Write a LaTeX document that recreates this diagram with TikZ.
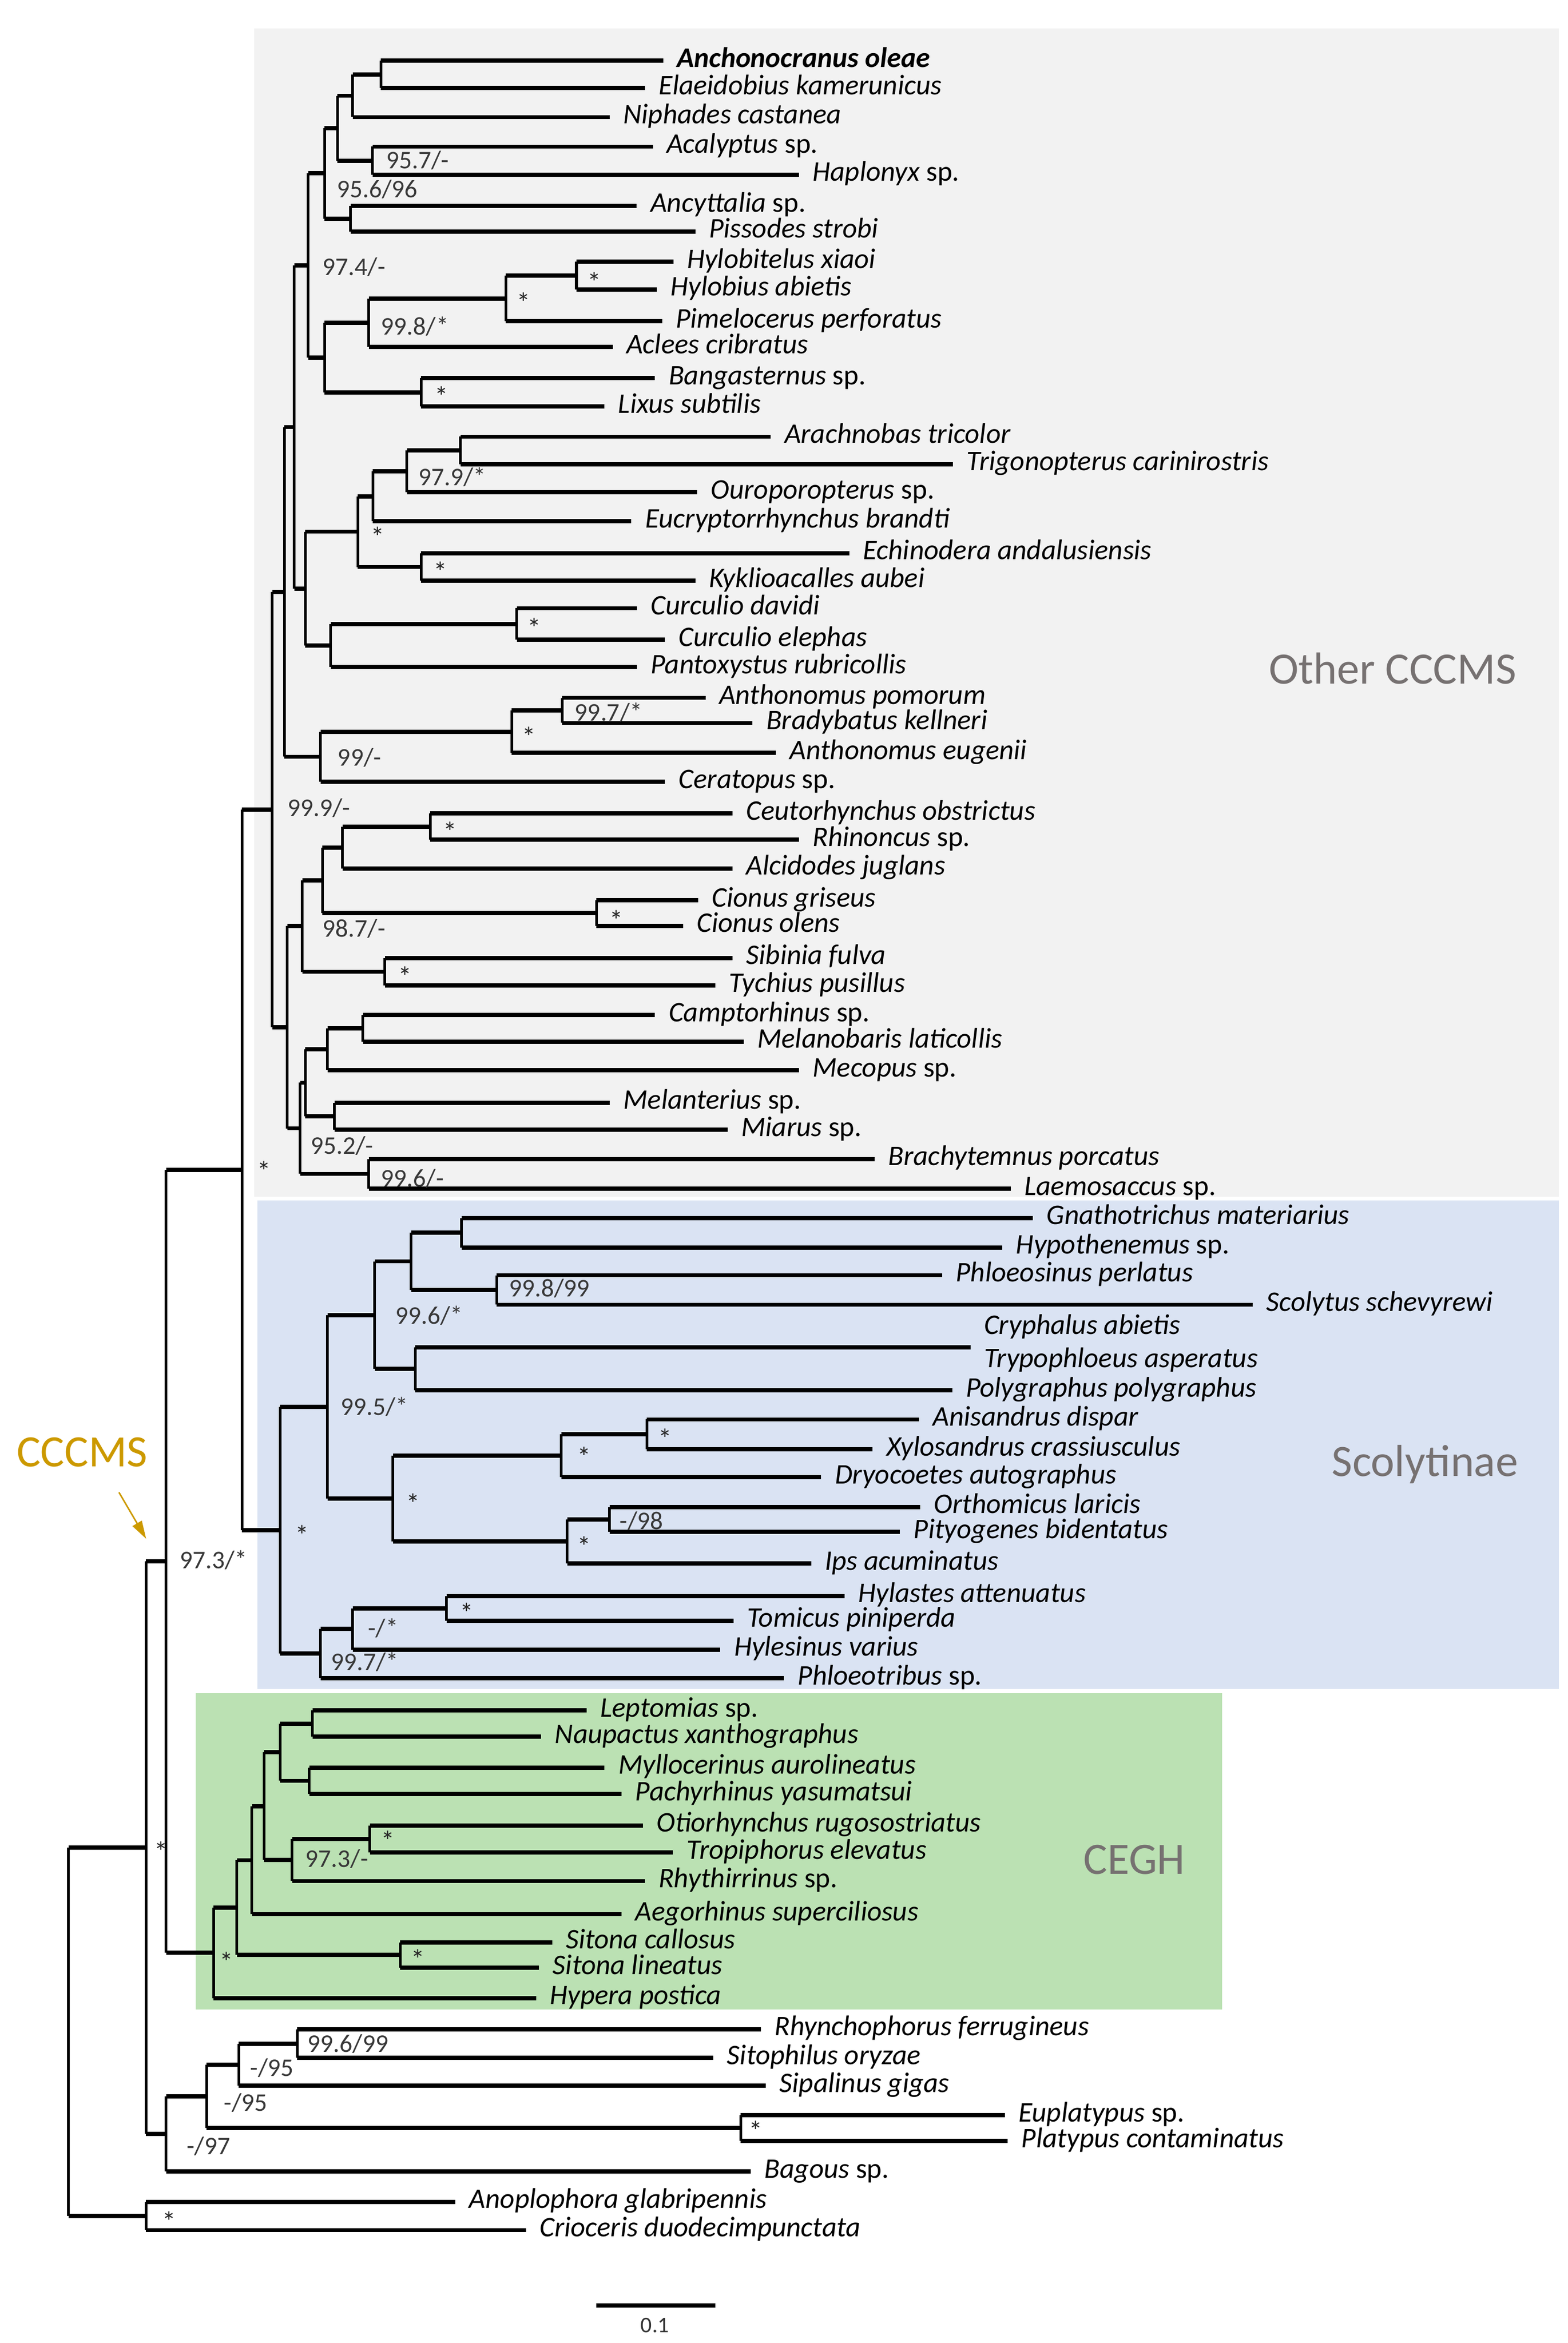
\documentclass[tikz,border=0pt]{standalone}
\usepackage{fontspec}
\setmainfont{Carlito}
\usetikzlibrary{arrows.meta}
\definecolor{bggray}{RGB}{242,242,242}
\definecolor{bgblue}{RGB}{218,227,243}
\definecolor{bggreen}{RGB}{187,225,179}
\definecolor{grouptxt}{RGB}{118,113,113}
\definecolor{goldc}{RGB}{204,153,0}
\newcommand\Nd[3]{\coordinate (#1) at (#2,#3);}
\newcommand\Lf[4]{\coordinate (#1) at (#2,#3); \node[lab] (#1t) at ({#2+9},{#3+4.3}) {#4};}
\newcommand\Br[2]{\draw[hb] (#1 |- #2) -- (#2); \draw[vb] (#1) -- (#1 |- #2);}
\newcommand\Sv[4]{\node[sv] (#1) at (#2,#3) {#4};}
\newcommand\St[3]{\node[st] (#1) at (#2,#3) {*};}
\newcommand\up[1]{{\upshape #1}}
\begin{document}
\begin{tikzpicture}[x=1pt,y=-1pt,
  hb/.style={line width=2.8pt},
  vb/.style={line width=1.8pt},
  lab/.style={anchor=base west,inner sep=0pt,font=\fontsize{19}{22}\selectfont\itshape},
  sv/.style={anchor=west,inner sep=0pt,text=black!78,font=\fontsize{17}{20}\selectfont},
  st/.style={anchor=center,inner sep=0pt,yshift=-3.4pt,text=black!85,font=\fontsize{18.5}{20}\selectfont},
  grp/.style={anchor=base west,inner sep=0pt,text=grouptxt,font=\fontsize{30}{34}\selectfont}]
\useasboundingbox (0,0) rectangle (1048,1566.3);
% backgrounds
\fill[bggray] (170,18.9) rectangle (1042,800);
\fill[bgblue] (172,802.5) rectangle (1042,1129);
\fill[bggreen] (131,1132) rectangle (817,1343.5);
% leaves
\Lf{l1}{443.2}{40.6}{\textbf{Anchonocranus oleae}}
\Lf{l2}{431}{58.8}{Elaeidobius kamerunicus}
\Lf{l3}{407.5}{78.3}{Niphades castanea}
\Lf{l4}{436.4}{98}{Acalyptus \up{sp.}}
\Lf{l5}{534}{116.8}{Haplonyx \up{sp.}}
\Lf{l6}{425.6}{137.6}{Ancyttalia \up{sp.}}
\Lf{l7}{464.7}{154.7}{Pissodes strobi}
\Lf{l8}{450}{175}{Hylobitelus xiaoi}
\Lf{l9}{439}{193.5}{Hylobius abietis}
\Lf{l10}{442.5}{214.7}{Pimelocerus perforatus}
\Lf{l11}{409.5}{232}{Aclees cribratus}
\Lf{l12}{437.8}{252.7}{Bangasternus \up{sp.}}
\Lf{l13}{404}{271.8}{Lixus subtilis}
\Lf{l14}{515.2}{291.9}{Arachnobas tricolor}
\Lf{l15}{637}{310.3}{Trigonopterus carinirostris}
\Lf{l16}{466}{329.1}{Ouroporopterus \up{sp.}}
\Lf{l17}{422}{348.5}{Eucryptorrhynchus brandti}
\Lf{l18}{567.7}{369.8}{Echinodera andalusiensis}
\Lf{l19}{464.7}{388.3}{Kyklioacalles aubei}
\Lf{l20}{425.7}{406.6}{Curculio davidi}
\Lf{l21}{444.5}{427.7}{Curculio elephas}
\Lf{l22}{425.7}{446}{Pantoxystus rubricollis}
\Lf{l23}{471.5}{466.5}{Anthonomus pomorum}
\Lf{l24}{503}{483.3}{Bradybatus kellneri}
\Lf{l25}{518.6}{503.3}{Anthonomus eugenii}
\Lf{l26}{444.5}{522.7}{Ceratopus \up{sp.}}
\Lf{l27}{489.6}{543.8}{Ceutorhynchus obstrictus}
\Lf{l28}{534}{561.3}{Rhinoncus \up{sp.}}
\Lf{l29}{489.6}{580.6}{Alcidodes juglans}
\Lf{l30}{466.7}{601.8}{Cionus griseus}
\Lf{l31}{456.6}{618.9}{Cionus olens}
\Lf{l32}{489.6}{640.4}{Sibinia fulva}
\Lf{l33}{478.2}{658.9}{Tychius pusillus}
\Lf{l34}{437.8}{678.6}{Camptorhinus \up{sp.}}
\Lf{l35}{497}{696.3}{Melanobaris laticollis}
\Lf{l36}{534}{715.4}{Mecopus \up{sp.}}
\Lf{l37}{407.5}{737.2}{Melanterius \up{sp.}}
\Lf{l38}{486.3}{755.3}{Miarus \up{sp.}}
\Lf{l39}{584.6}{774.8}{Brachytemnus porcatus}
\Lf{l40}{675.5}{794.7}{Laemosaccus \up{sp.}}
\Lf{l41}{690.3}{814.2}{Gnathotrichus materiarius}
\Lf{l42}{670}{833.9}{Hypothenemus \up{sp.}}
\Lf{l43}{629.7}{852.5}{Phloeosinus perlatus}
\Lf{l44}{837.2}{872.2}{Scolytus schevyrewi}
\coordinate (l45) at (648.6,900.8);
\node[lab] (l45t) at (657.6,891.9) {Cryphalus abietis};
\node[lab] (l46t) at (657.6,914.1) {Trypophloeus asperatus};
\Lf{l47}{636.4}{929.5}{Polygraphus polygraphus}
\Lf{l48}{614.2}{948.9}{Anisandrus dispar}
\Lf{l49}{583.3}{968.9}{Xylosandrus crassiusculus}
\Lf{l50}{548.9}{987.5}{Dryocoetes autographus}
\Lf{l51}{615}{1007.4}{Orthomicus laricis}
\Lf{l52}{601.4}{1024.1}{Pityogenes bidentatus}
\Lf{l53}{542.2}{1045.2}{Ips acuminatus}
\Lf{l54}{564.4}{1066.9}{Hylastes attenuatus}
\Lf{l55}{490.3}{1083.4}{Tomicus piniperda}
\Lf{l56}{481.5}{1102.8}{Hylesinus varius}
\Lf{l57}{524}{1121.9}{Phloeotribus \up{sp.}}
\Lf{l58}{392}{1143.4}{Leptomias \up{sp.}}
\Lf{l59}{361.7}{1161}{Naupactus xanthographus}
\Lf{l60}{404.1}{1181.6}{Myllocerinus aurolineatus}
\Lf{l61}{415.5}{1199.3}{Pachyrhinus yasumatsui}
\Lf{l62}{429.7}{1220.4}{Otiorhynchus rugosostriatus}
\Lf{l63}{449.9}{1238.4}{Tropiphorus elevatus}
\Lf{l64}{431}{1257.5}{Rhythirrinus \up{sp.}}
\Lf{l65}{415.5}{1279.6}{Aegorhinus superciliosus}
\Lf{l66}{369}{1298.4}{Sitona callosus}
\Lf{l67}{360.3}{1315.4}{Sitona lineatus}
\Lf{l68}{358.3}{1335.7}{Hypera postica}
\Lf{l69}{508.5}{1356.6}{Rhynchophorus ferrugineus}
\Lf{l70}{476.8}{1375.7}{Sitophilus oryzae}
\Lf{l71}{511.9}{1394.3}{Sipalinus gigas}
\Lf{l72}{671.5}{1414}{Euplatypus \up{sp.}}
\Lf{l73}{673.5}{1431.3}{Platypus contaminatus}
\Lf{l74}{501.8}{1451.6}{Bagous \up{sp.}}
\Lf{l75}{304.4}{1471.9}{Anoplophora glabripennis}
\Lf{l76}{351.6}{1490.8}{Crioceris duodecimpunctata}
% internal nodes
\Nd{P1}{254.6}{49.7} \Nd{P2}{235.7}{64} \Nd{P3}{249}{107.4} \Nd{P4}{225.6}{85.7}
\Nd{P5}{234.4}{146.15} \Nd{P6}{216.9}{115.9} \Nd{H3}{385.3}{184.25} \Nd{H2}{338}{199.5}
\Nd{H1}{246.5}{215.75} \Nd{BL}{281.5}{262.25} \Nd{P8}{216.9}{239} \Nd{P7}{206}{177.45}
\Nd{E4}{307.8}{301.1} \Nd{E3}{272}{315.1} \Nd{E1}{249.2}{331.8} \Nd{E2}{281.5}{379.05}
\Nd{C2}{239.1}{355.4} \Nd{C4}{345.5}{417.15} \Nd{C3}{221}{431.6} \Nd{C1}{204}{393.5}
\Nd{U2}{196.6}{285.5} \Nd{A3}{375.8}{474.9} \Nd{A2}{342.1}{489.1} \Nd{A1}{214.2}{505.9}
\Nd{U3}{190}{395.7} \Nd{D4}{287.6}{552.55} \Nd{D3}{229}{566.6} \Nd{CI}{398.7}{610.35}
\Nd{D2}{215.5}{588.5} \Nd{SB}{257.3}{649.65} \Nd{D1}{202}{619.1} \Nd{M1}{242.5}{687.45}
\Nd{M2}{218.9}{701.4} \Nd{M3}{223.6}{746.25} \Nd{M23}{204}{723.8} \Nd{M4}{246.5}{784.75}
\Nd{M7}{200.7}{754.3} \Nd{B}{192}{686.7} \Nd{U4}{182}{541.2}
\Nd{S1}{308.5}{824.05} \Nd{S2}{332}{862.35} \Nd{S3}{274.8}{843.2} \Nd{S4}{277.5}{915.15}
\Nd{S5}{250.5}{879.2} \Nd{S6}{432.4}{958.9} \Nd{S7}{375.2}{973.2} \Nd{S8}{407.5}{1015.75}
\Nd{S9}{379.2}{1030.5} \Nd{S10}{262.7}{1001.85} \Nd{S11}{218.9}{940.5} \Nd{S12}{298.4}{1075.15}
\Nd{S13}{235.7}{1089} \Nd{S14}{214.2}{1105.45} \Nd{S15}{187.2}{1023} \Nd{R1}{161.7}{782.1}
\Nd{G1}{208.8}{1152.2} \Nd{G2}{206.8}{1190.45} \Nd{G3}{187.2}{1171.3} \Nd{G4}{247.2}{1229.4}
\Nd{G5}{195.3}{1243.45} \Nd{G6}{176.5}{1207.4} \Nd{G7}{168.4}{1243.5} \Nd{G8}{267.4}{1306.9}
\Nd{G9a}{158.3}{1275.2} \Nd{G9}{142.8}{1305.45} \Nd{R2}{111}{1043.8}
\Nd{O1}{198.7}{1366.15} \Nd{O2}{159.6}{1380.2} \Nd{O3}{495}{1422.65} \Nd{O4}{138}{1401.4}
\Nd{O5}{111}{1426.5} \Nd{O6}{97.6}{1235.15} \Nd{O7}{97.6}{1481.35} \Nd{ROOT}{45.8}{1358.25}
% branches
\Br{P1}{l1}\Br{P1}{l2}\Br{P2}{P1}\Br{P2}{l3}\Br{P3}{l4}\Br{P3}{l5}\Br{P4}{P2}\Br{P4}{P3}
\Br{P5}{l6}\Br{P5}{l7}\Br{P6}{P4}\Br{P6}{P5}\Br{H3}{l8}\Br{H3}{l9}\Br{H2}{H3}\Br{H2}{l10}
\Br{H1}{H2}\Br{H1}{l11}\Br{BL}{l12}\Br{BL}{l13}\Br{P8}{H1}\Br{P8}{BL}\Br{P7}{P6}\Br{P7}{P8}
\Br{E4}{l14}\Br{E4}{l15}\Br{E3}{E4}\Br{E3}{l16}\Br{E1}{E3}\Br{E1}{l17}\Br{E2}{l18}\Br{E2}{l19}
\Br{C2}{E1}\Br{C2}{E2}\Br{C4}{l20}\Br{C4}{l21}\Br{C3}{C4}\Br{C3}{l22}\Br{C1}{C2}\Br{C1}{C3}
\Br{U2}{P7}\Br{U2}{C1}\Br{A3}{l23}\Br{A3}{l24}\Br{A2}{A3}\Br{A2}{l25}\Br{A1}{A2}\Br{A1}{l26}
\Br{U3}{U2}\Br{U3}{A1}\Br{D4}{l27}\Br{D4}{l28}\Br{D3}{D4}\Br{D3}{l29}\Br{CI}{l30}\Br{CI}{l31}
\Br{D2}{D3}\Br{D2}{CI}\Br{SB}{l32}\Br{SB}{l33}\Br{D1}{D2}\Br{D1}{SB}\Br{M1}{l34}\Br{M1}{l35}
\Br{M2}{M1}\Br{M2}{l36}\Br{M3}{l37}\Br{M3}{l38}\Br{M23}{M2}\Br{M23}{M3}\Br{M4}{l39}\Br{M4}{l40}
\Br{M7}{M23}\Br{M7}{M4}\Br{B}{D1}\Br{B}{M7}\Br{U4}{U3}\Br{U4}{B}
\Br{S1}{l41}\Br{S1}{l42}\Br{S2}{l43}\Br{S2}{l44}\Br{S3}{S1}\Br{S3}{S2}\Br{S4}{l45}\Br{S4}{l47}
\Br{S5}{S3}\Br{S5}{S4}\Br{S6}{l48}\Br{S6}{l49}\Br{S7}{S6}\Br{S7}{l50}\Br{S8}{l51}\Br{S8}{l52}
\Br{S9}{S8}\Br{S9}{l53}\Br{S10}{S7}\Br{S10}{S9}\Br{S11}{S5}\Br{S11}{S10}\Br{S12}{l54}\Br{S12}{l55}
\Br{S13}{S12}\Br{S13}{l56}\Br{S14}{S13}\Br{S14}{l57}\Br{S15}{S11}\Br{S15}{S14}\Br{R1}{U4}\Br{R1}{S15}
\Br{G1}{l58}\Br{G1}{l59}\Br{G2}{l60}\Br{G2}{l61}\Br{G3}{G1}\Br{G3}{G2}\Br{G4}{l62}\Br{G4}{l63}
\Br{G5}{G4}\Br{G5}{l64}\Br{G6}{G3}\Br{G6}{G5}\Br{G7}{G6}\Br{G7}{l65}\Br{G8}{l66}\Br{G8}{l67}
\Br{G9a}{G7}\Br{G9a}{G8}\Br{G9}{G9a}\Br{G9}{l68}\Br{R2}{R1}\Br{R2}{G9}
\Br{O1}{l69}\Br{O1}{l70}\Br{O2}{O1}\Br{O2}{l71}\Br{O3}{l72}\Br{O3}{l73}\Br{O4}{O2}\Br{O4}{O3}
\Br{O5}{O4}\Br{O5}{l74}\Br{O6}{R2}\Br{O6}{O5}\Br{O7}{l75}\Br{O7}{l76}\Br{ROOT}{O6}\Br{ROOT}{O7}
% support values
\Sv{v1}{258}{107}{95.7/-}
\Sv{v2}{225}{126.6}{95.6/96}
\Sv{v3}{215.5}{178.6}{97.4/-}
\Sv{v4}{254.6}{218}{99.8/*}
\Sv{v5}{279.5}{319}{97.9/*}
\Sv{v6}{384}{476.1}{99.7/*}
\Sv{v7}{225.6}{506.6}{99/-}
\Sv{v8}{192}{540}{99.9/-}
\Sv{v9}{215.5}{620.7}{98.7/-}
\Sv{v10}{207.4}{765.8}{95.2/-}
\Sv{v11}{254.6}{787.9}{99.6/-}
\Sv{v12}{340}{861.4}{99.8/99}
\Sv{v13}{264}{879.3}{99.6/*}
\Sv{v14}{227.6}{940.3}{99.5/*}
\Sv{v15}{414}{1016.7}{-/98}
\Sv{v16}{120}{1043}{97.3/*}
\Sv{v17}{245.8}{1088.4}{-/*}
\Sv{v18}{221}{1111}{99.7/*}
\Sv{v19}{204}{1242.5}{97.3/-}
\Sv{v20}{205.4}{1366.2}{99.6/99}
\Sv{v21}{167}{1382.3}{-/95}
\Sv{v22}{149.5}{1405.6}{-/95}
\Sv{v23}{124.6}{1434.9}{-/97}
% asterisks
\St{a1}{397.3}{185.2}\St{a2}{350}{198.9}\St{a3}{295}{261.6}\St{a4}{252.6}{355.4}
\St{a5}{294.3}{378.7}\St{a6}{357}{416.4}\St{a7}{353.6}{489.2}\St{a8}{301}{552.6}
\St{a9}{412}{611.7}\St{a10}{270.8}{649.3}\St{a11}{176.5}{779.6}\St{a12}{444.5}{958.2}
\St{a13}{390.6}{970.6}\St{a14}{276}{1001.8}\St{a15}{390.6}{1030.5}\St{a16}{202}{1022.7}
\St{a17}{311.8}{1074.7}\St{a18}{259.3}{1227}\St{a19}{107.8}{1234.1}\St{a20}{279.5}{1306.4}
\St{a21}{151.5}{1308.2}\St{a22}{505}{1421}\St{a23}{113}{1481.5}
% group labels
\node[grp] (g1) at (848,457) {Other CCCMS};
\node[grp] (g2) at (890,986.8) {Scolytinae};
\node[grp] (g3) at (724,1252.7) {CEGH};
\node[grp,text=goldc] (g4) at (11,980.3) {CCCMS};
\coordinate (arS) at (79.5,997.6);
\coordinate (arE) at (97.7,1028.7);
\draw[goldc,line width=1pt,-{Triangle[length=12pt,width=7pt]}] (arS) -- (arE);
% scale bar
\coordinate (sbL) at (398.7,1541.2);
\coordinate (sbR) at (478.2,1541.2);
\draw[line width=2.8pt] (sbL) -- (sbR);
\node[anchor=center,inner sep=0pt,font=\fontsize{15}{18}\selectfont,text=black!80] (sbt) at (437.8,1554.4) {0.1};
\end{tikzpicture}
\end{document}
